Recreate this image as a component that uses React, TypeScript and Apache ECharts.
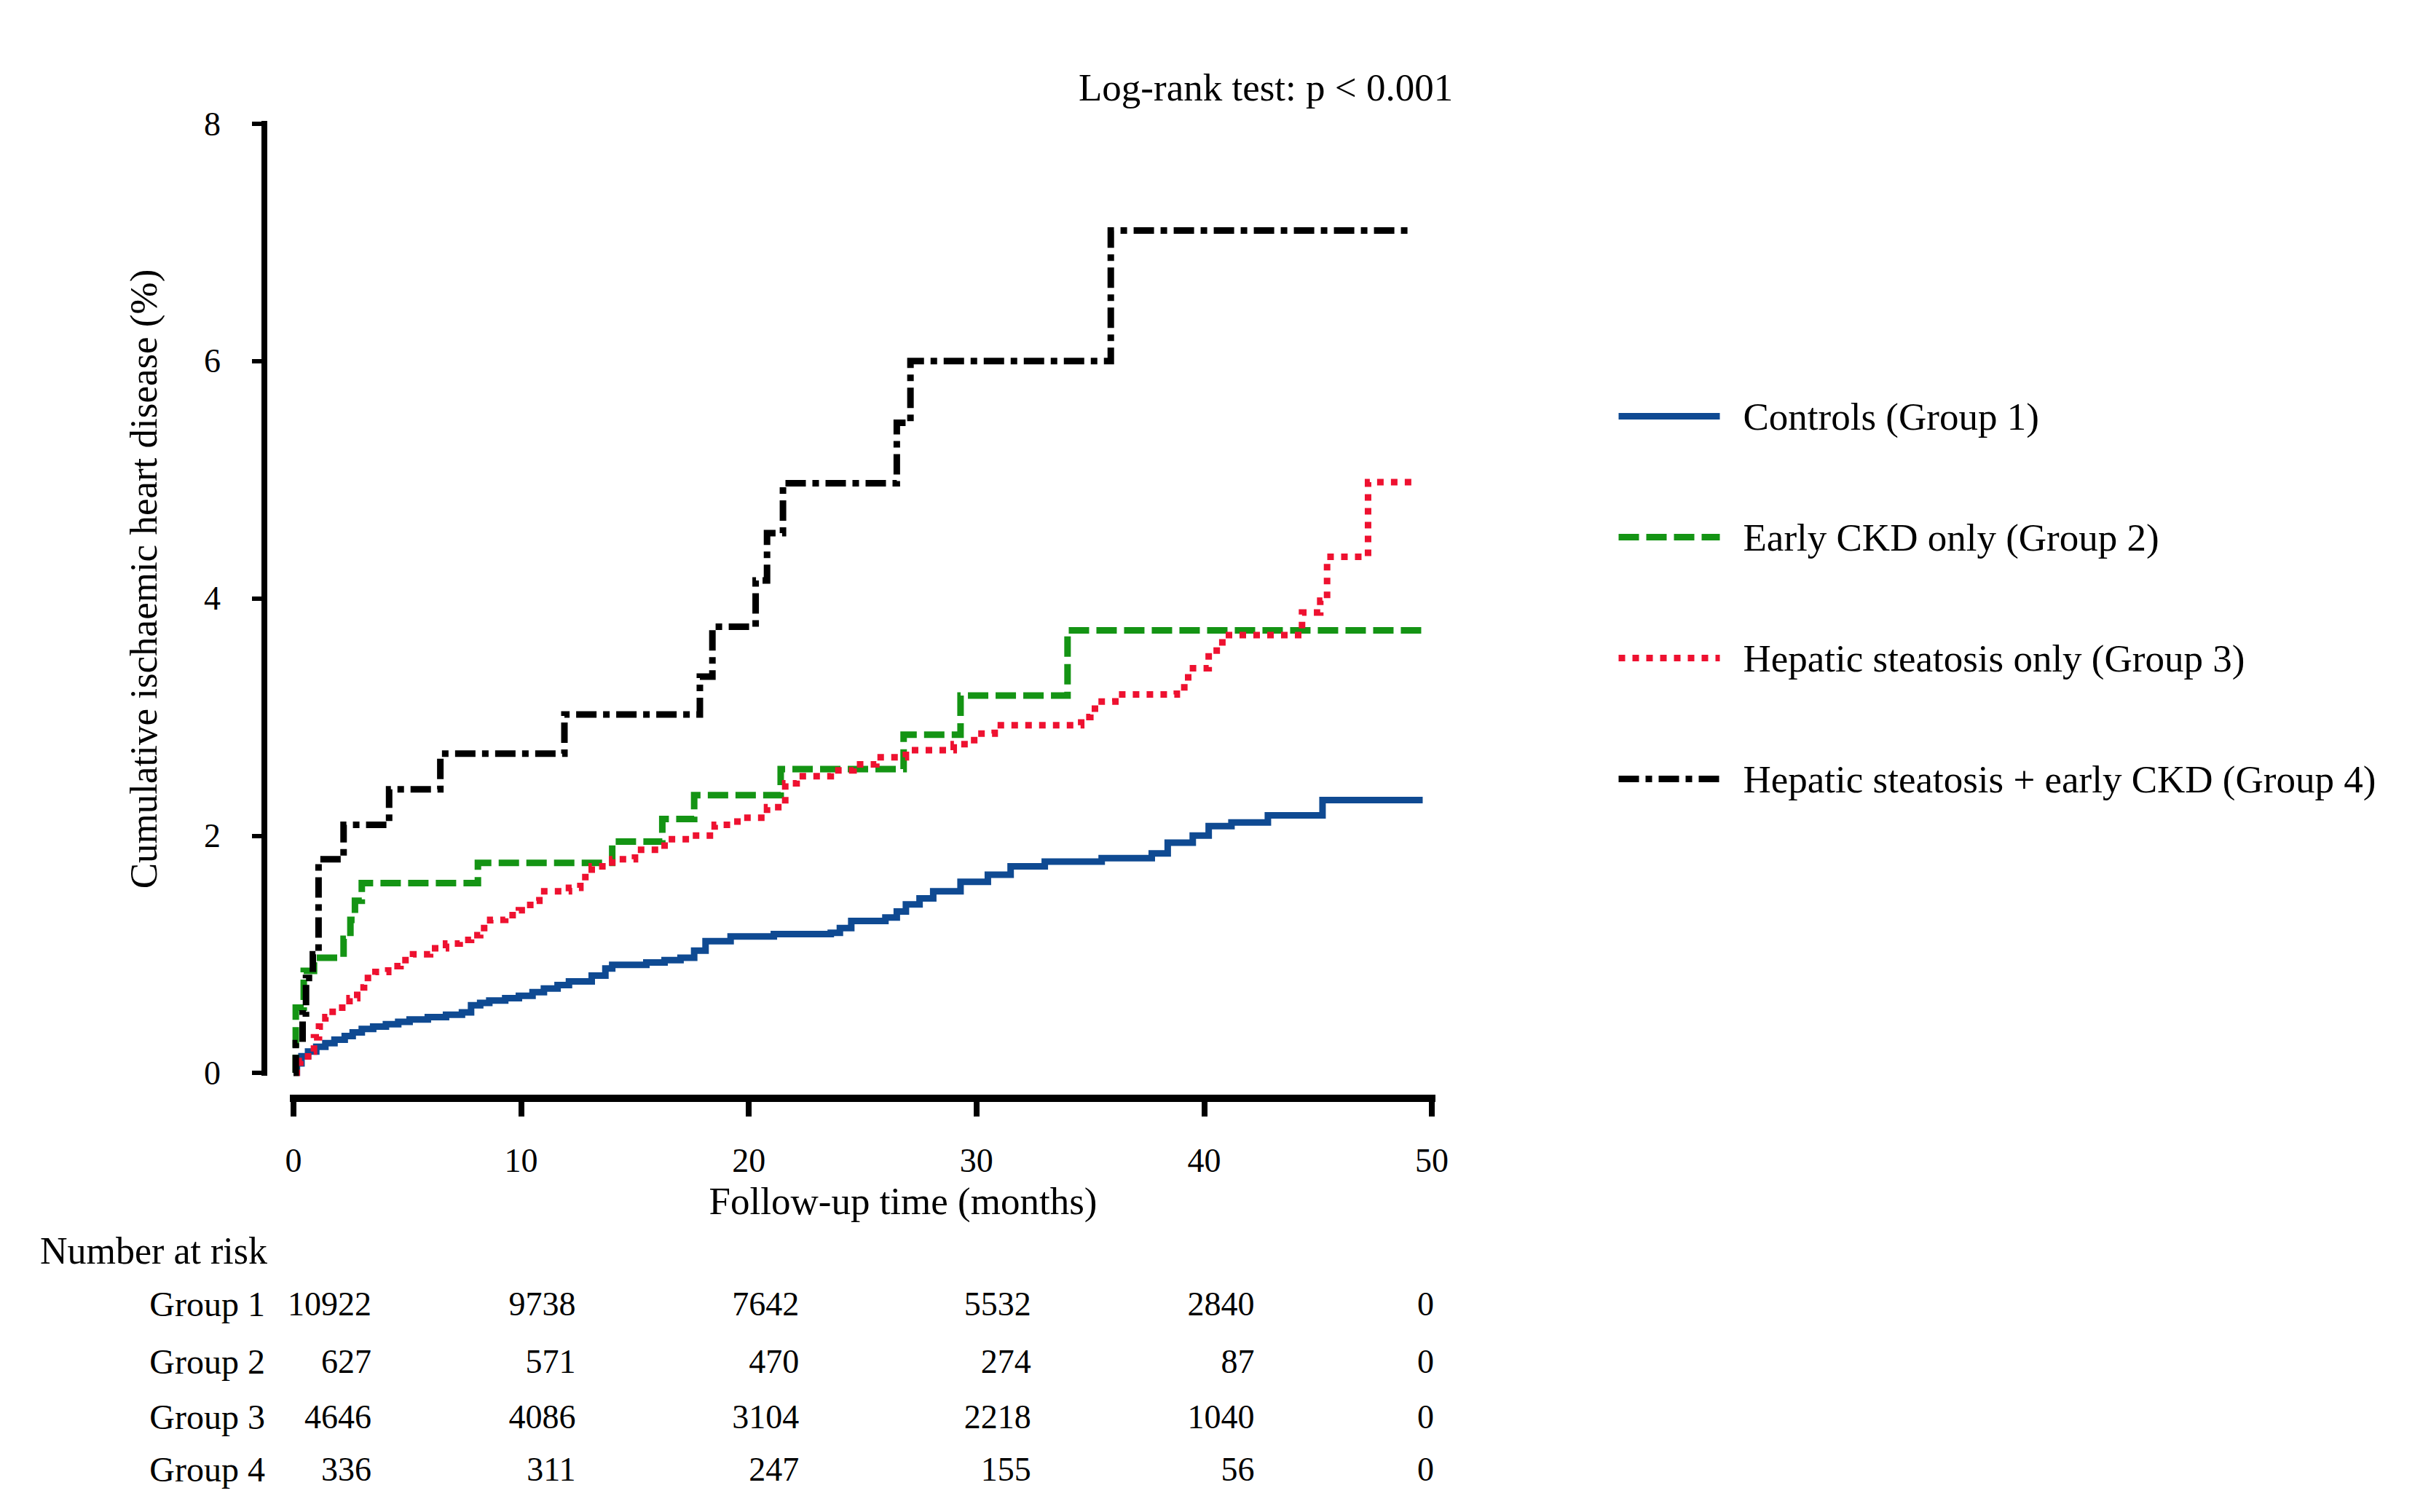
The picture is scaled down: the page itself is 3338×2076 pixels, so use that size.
import React, { useEffect, useRef } from 'react';
import * as echarts from 'echarts';

const W = 3338;
const H = 2076;
const FONT = '"Liberation Serif", "Times New Roman", serif';

// Kaplan–Meier step curves: time of each event (months) and cumulative incidence (%) after it
const g1Time = [0, 0.15, 0.35, 0.64, 1.0, 1.4, 1.8, 2.25, 2.6, 3.0, 3.5, 4.06, 4.6, 5.1, 5.9, 6.7, 7.4, 7.8, 8.2, 8.6, 9.3, 9.9, 10.5, 11.0, 11.6, 12.1, 13.1, 13.7, 14.0, 15.5, 16.3, 17.0, 17.6, 18.1, 19.2, 21.1, 23.6, 24.0, 24.5, 26.0, 26.5, 26.9, 27.5, 28.1, 29.3, 30.5, 31.5, 33.0, 35.5, 37.7, 38.4, 39.5, 40.2, 41.2, 42.8, 45.2, 49.6];
const g1Cum = [0, 0.08, 0.14, 0.18, 0.22, 0.25, 0.28, 0.31, 0.34, 0.37, 0.39, 0.41, 0.43, 0.45, 0.47, 0.49, 0.51, 0.57, 0.59, 0.61, 0.63, 0.65, 0.68, 0.71, 0.74, 0.77, 0.82, 0.88, 0.91, 0.93, 0.95, 0.97, 1.03, 1.11, 1.15, 1.17, 1.18, 1.22, 1.28, 1.31, 1.36, 1.42, 1.47, 1.53, 1.61, 1.67, 1.74, 1.78, 1.81, 1.85, 1.94, 2.0, 2.08, 2.11, 2.17, 2.3, 2.3];

const g2Time = [0, 0.1, 0.45, 0.9, 2.2, 2.5, 2.7, 3.0, 8.1, 14.0, 16.2, 17.6, 21.4, 26.8, 29.3, 34.0, 49.6];
const g2Cum = [0, 0.55, 0.86, 0.97, 1.13, 1.29, 1.45, 1.6, 1.77, 1.95, 2.14, 2.34, 2.56, 2.85, 3.18, 3.73, 3.73];

const g3Time = [0, 0.3, 0.64, 0.9, 1.12, 1.4, 1.72, 2.46, 2.8, 3.1, 3.6, 4.16, 4.7, 5.25, 6.0, 6.7, 7.3, 7.8, 8.2, 8.64, 9.3, 9.9, 10.4, 10.8, 12.1, 12.6, 13.1, 14.0, 15.0, 16.3, 17.4, 18.5, 19.5, 20.8, 21.6, 22.1, 23.6, 24.6, 25.6, 26.9, 29.0, 29.9, 30.8, 34.6, 35.0, 35.5, 36.1, 38.8, 39.3, 40.2, 40.8, 44.3, 45.1, 45.4, 47.2, 49.3];
const g3Cum = [0, 0.1, 0.18, 0.3, 0.39, 0.47, 0.55, 0.63, 0.72, 0.8, 0.85, 0.9, 0.95, 1.0, 1.05, 1.09, 1.12, 1.16, 1.22, 1.29, 1.33, 1.37, 1.45, 1.53, 1.56, 1.65, 1.74, 1.8, 1.88, 1.97, 2.0, 2.09, 2.15, 2.24, 2.44, 2.5, 2.55, 2.6, 2.66, 2.72, 2.77, 2.86, 2.93, 3.0, 3.07, 3.13, 3.19, 3.25, 3.41, 3.56, 3.69, 3.88, 3.98, 4.35, 4.98, 4.98];

const g4Time = [0, 0.1, 0.4, 0.55, 0.85, 1.1, 2.2, 4.2, 6.45, 11.9, 17.85, 18.4, 20.3, 20.8, 21.5, 26.5, 27.1, 35.9, 49.2];
const g4Cum = [0, 0.25, 0.5, 0.8, 1.0, 1.8, 2.09, 2.39, 2.69, 3.02, 3.34, 3.76, 4.15, 4.55, 4.97, 5.48, 6.0, 7.1, 7.1];

const seriesNames = [
  'Controls (Group 1)',
  'Early CKD only (Group 2)',
  'Hepatic steatosis only (Group 3)',
  'Hepatic steatosis + early CKD (Group 4)',
];

// Number-at-risk table
const riskTimes = [0, 10, 20, 30, 40, 50];
const riskRowLabels = ['Group 1', 'Group 2', 'Group 3', 'Group 4'];
const riskGroup1 = [10922, 9738, 7642, 5532, 2840, 0];
const riskGroup2 = [627, 571, 470, 274, 87, 0];
const riskGroup3 = [4646, 4086, 3104, 2218, 1040, 0];
const riskGroup4 = [336, 311, 247, 155, 56, 0];

const yTicks = { min: 0, max: 8, interval: 2 };
const xTicks = { min: 0, max: 50, interval: 10 };

// styling (kept apart from the data)
const lineColors = ['#0f4a92', '#149414', '#ee1130', '#000000'];
const lineDashes: (string | number[])[] = ['solid', [28, 10], [9, 10], [28, 9, 9, 9]];
const riskColumnShift = [107, 75, 69, 75, 69, 3];
const riskRowY = [1790, 1869, 1945, 2017];

const pairs = (t: number[], v: number[]) => t.map((x, i) => [x, v[i]]);

export default function App() {
  const ref = useRef<HTMLDivElement>(null);

  useEffect(() => {
    const el = ref.current;
    if (!el) return;
    const chart = echarts.init(el, null, { renderer: 'svg', width: W, height: H });

    const curves = [
      pairs(g1Time, g1Cum),
      pairs(g2Time, g2Cum),
      pairs(g3Time, g3Cum),
      pairs(g4Time, g4Cum),
    ];

    chart.setOption({
      animation: false,
      backgroundColor: '#ffffff',
      textStyle: { fontFamily: FONT, color: '#000' },
      grid: { left: 403, right: W - 1966, top: 170, bottom: H - 1473, containLabel: false },
      xAxis: {
        type: 'value',
        min: xTicks.min,
        max: xTicks.max,
        interval: xTicks.interval,
        offset: 35,
        name: 'Follow-up time (months)',
        nameLocation: 'middle',
        nameGap: 114,
        nameTextStyle: { fontSize: 53, fontFamily: FONT, color: '#000', padding: [0, 0, 0, 111] },
        axisLine: { show: true, onZero: false, lineStyle: { color: '#000', width: 10, cap: 'square' } },
        axisTick: { show: true, length: 25, lineStyle: { color: '#000', width: 8 } },
        axisLabel: { fontSize: 46, fontFamily: FONT, color: '#000', margin: 62 },
        splitLine: { show: false },
      },
      yAxis: {
        type: 'value',
        min: yTicks.min,
        max: yTicks.max,
        interval: yTicks.interval,
        offset: 40,
        name: 'Cumulative ischaemic heart disease (%)',
        nameLocation: 'middle',
        nameRotate: 90,
        nameGap: 140,
        nameTextStyle: { fontSize: 53, fontFamily: FONT, color: '#000', padding: [0, 0, 0, 53] },
        axisLine: { show: true, onZero: false, lineStyle: { color: '#000', width: 8, cap: 'square' } },
        axisTick: { show: true, length: 17, lineStyle: { color: '#000', width: 6 } },
        axisLabel: { fontSize: 46, fontFamily: FONT, color: '#000', margin: 60 },
        splitLine: { show: false },
      },
      legend: {
        orient: 'vertical',
        left: 2213,
        top: 530,
        itemWidth: 139,
        itemHeight: 20,
        itemGap: 93,
        selectedMode: false,
        itemStyle: { opacity: 0 },
        lineStyle: { width: 9 },
        textStyle: {
          fontSize: 53,
          fontFamily: FONT,
          color: '#000',
          lineHeight: 53,
          padding: [0, 0, 20, 27],
        },
        data: seriesNames,
      },
      series: curves.map((data, i) => ({
        type: 'line',
        name: seriesNames[i],
        data,
        step: 'end',
        symbol: 'none',
        showSymbol: false,
        z: 2 + i,
        itemStyle: { color: lineColors[i] },
        lineStyle: { color: lineColors[i], width: 9, type: lineDashes[i], cap: 'butt', join: 'miter' },
      })),
    });

    // number-at-risk table, columns aligned to the x-axis ticks
    const colRight = riskTimes.map(
      (t, i) => (chart.convertToPixel({ xAxisIndex: 0 }, t) as number) + riskColumnShift[i]
    );
    const riskRows = [riskGroup1, riskGroup2, riskGroup3, riskGroup4];
    const txt = (text: string, x: number, y: number, size: number, align: string) => ({
      type: 'text',
      x,
      y,
      silent: true,
      style: {
        text,
        fontSize: size,
        fontFamily: FONT,
        fill: '#000',
        align,
        verticalAlign: 'middle',
        textAlign: align,
        textVerticalAlign: 'middle',
      },
    });
    const graphics: any[] = [
      txt('Log-rank test: p < 0.001', 1481, 120, 53, 'left'),
      txt('Number at risk', 55, 1717, 52, 'left'),
    ];
    riskRows.forEach((row, r) => {
      graphics.push(txt(riskRowLabels[r], 364, riskRowY[r], 48, 'right'));
      row.forEach((n, c) => graphics.push(txt(String(n), colRight[c], riskRowY[r], 46, 'right')));
    });
    chart.setOption({ graphic: graphics });

    return () => chart.dispose();
  }, []);

  return (
    <div
      ref={ref}
      style={{ position: 'fixed', left: 0, top: 0, width: W, height: H, background: '#fff' }}
    />
  );
}
